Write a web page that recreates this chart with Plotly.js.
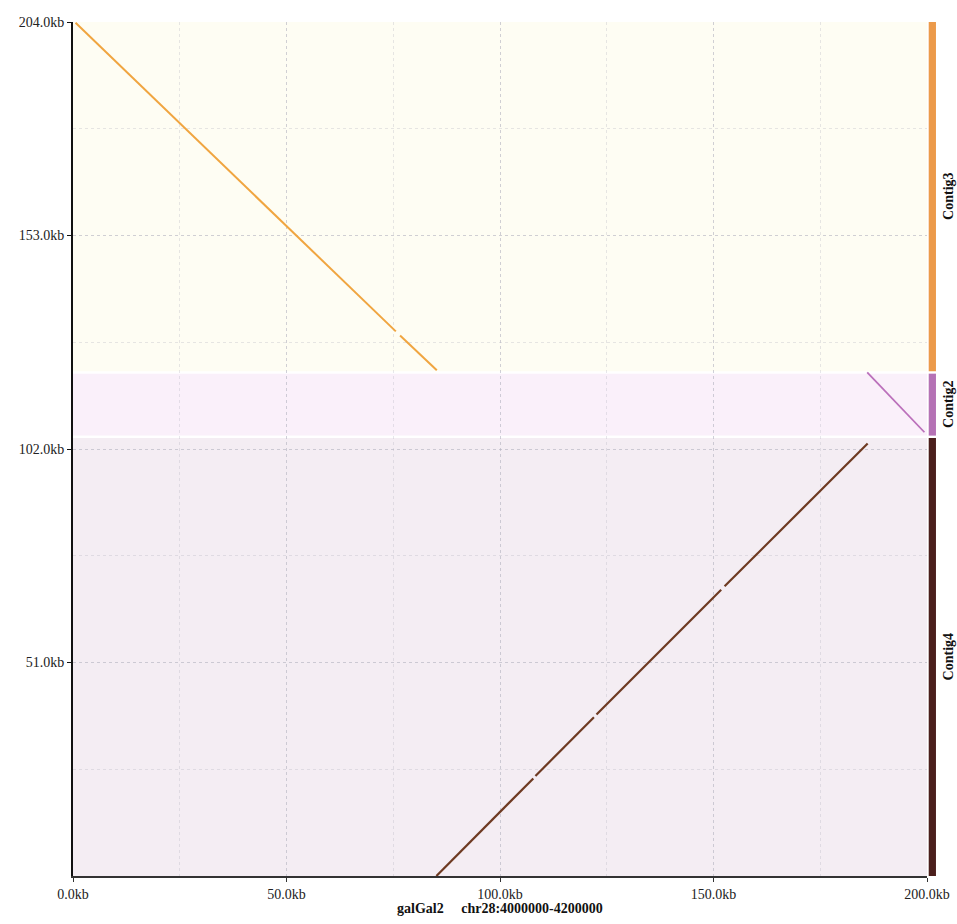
<!DOCTYPE html>
<html>
<head>
<meta charset="utf-8">
<script src="https://cdn.plot.ly/plotly-3.0.1.min.js"></script>
<style>html,body{margin:0;padding:0;background:#fff;}#chart{width:957px;height:924px;}</style>
</head>
<body>
<div id="chart"></div>
<script>
// Contigs on the y axis (kb)
const contigNames = ["Contig4", "Contig2", "Contig3"];
const contigStart = [0, 105.2, 120.6];
const contigEnd = [104.6, 120.0, 204];
const contigBarColors = ["#4b1f1c", "#b572b5", "#ec9a4a"];
const contigBgColors = ["#f4edf3", "#faf0fa", "#fefdf3"];
const contigLineColors = ["#6e3a22", "#bb70bb", "#f0a540"];

// Alignment segments (kb) — null = gap
const c3x = [0.6, 75.6, null, 76.6, 85.2];
const c3y = [203.8, 130.1, null, 129.1, 120.8];
const c2x = [186.0, 199.4];
const c2y = [120.3, 106.0];
const c4x = [85.1, 107.8, null, 108.3, 122.0, null, 122.6, 151.8, null, 152.6, 186.1];
const c4y = [0.0, 23.3, null, 23.9, 37.9, null, 38.6, 68.4, null, 69.2, 103.3];

// Tick labels
const xTickVals = [0, 50, 100, 150, 200];
const xTickText = ["0.0kb", "50.0kb", "100.0kb", "150.0kb", "200.0kb"];
const yTickVals = [51, 102, 153, 204];
const yTickText = ["51.0kb", "102.0kb", "153.0kb", "204.0kb"];

const font = "Liberation Serif, Times New Roman, serif";

const traces = [
  {x: c4x, y: c4y, mode: "lines", line: {color: contigLineColors[0], width: 2.2}, connectgaps: false, hoverinfo: "skip"},
  {x: c2x, y: c2y, mode: "lines", line: {color: contigLineColors[1], width: 1.8}, hoverinfo: "skip"},
  {x: c3x, y: c3y, mode: "lines", line: {color: contigLineColors[2], width: 2}, connectgaps: false, hoverinfo: "skip"}
];

const shapes = [];
const annotations = [];
for (let i = 0; i < contigNames.length; i++) {
  shapes.push({type: "rect", xref: "paper", yref: "y", x0: 0, x1: 1,
    y0: contigStart[i], y1: contigEnd[i], fillcolor: contigBgColors[i], line: {width: 0}, layer: "below"});
  shapes.push({type: "rect", xref: "paper", yref: "y", x0: 1.002, x1: 1.0105,
    y0: contigStart[i], y1: contigEnd[i], fillcolor: contigBarColors[i], line: {width: 0}, layer: "above"});
  annotations.push({xref: "paper", yref: "y", x: 1.025, y: (contigStart[i] + contigEnd[i]) / 2,
    text: "<b>" + contigNames[i] + "</b>", textangle: -90, showarrow: false,
    font: {family: font, size: 14, color: "#111"}, xanchor: "center", yanchor: "middle"});
}
annotations.push({xref: "paper", yref: "paper", x: 0.5, y: -0.027, yanchor: "top", xanchor: "center",
  text: "<b>galGal2&nbsp;&nbsp;&nbsp;&nbsp;&nbsp;chr28:4000000-4200000</b>", showarrow: false,
  font: {family: font, size: 14, color: "#111"}});

const gridMain = "rgba(175,175,190,0.40)";
const gridMinor = "rgba(175,175,190,0.30)";

const layout = {
  width: 957, height: 924,
  margin: {l: 73, r: 30, t: 22, b: 48},
  paper_bgcolor: "#ffffff",
  plot_bgcolor: "rgba(0,0,0,0)",
  showlegend: false,
  xaxis: {
    range: [0, 200], tickvals: xTickVals, ticktext: xTickText,
    showgrid: true, gridcolor: gridMain, griddash: "dot", gridwidth: 1,
    minor: {dtick: 25, tick0: 0, showgrid: true, gridcolor: gridMinor, griddash: "dot"},
    showline: true, linecolor: "#333", linewidth: 2,
    ticks: "outside", ticklen: 4, tickcolor: "#333",
    tickfont: {family: font, size: 14, color: "#222"}, zeroline: false, fixedrange: true
  },
  yaxis: {
    range: [0, 204], tickvals: yTickVals, ticktext: yTickText,
    showgrid: true, gridcolor: gridMain, griddash: "dot", gridwidth: 1,
    minor: {dtick: 25.5, tick0: 0, showgrid: true, gridcolor: gridMinor, griddash: "dot"},
    showline: true, linecolor: "#111", linewidth: 2,
    ticks: "outside", ticklen: 4, tickcolor: "#111",
    tickfont: {family: font, size: 14, color: "#222"}, zeroline: false, fixedrange: true
  },
  shapes: shapes,
  annotations: annotations
};

Plotly.newPlot("chart", traces, layout, {displayModeBar: false, staticPlot: true});
</script>
</body>
</html>
